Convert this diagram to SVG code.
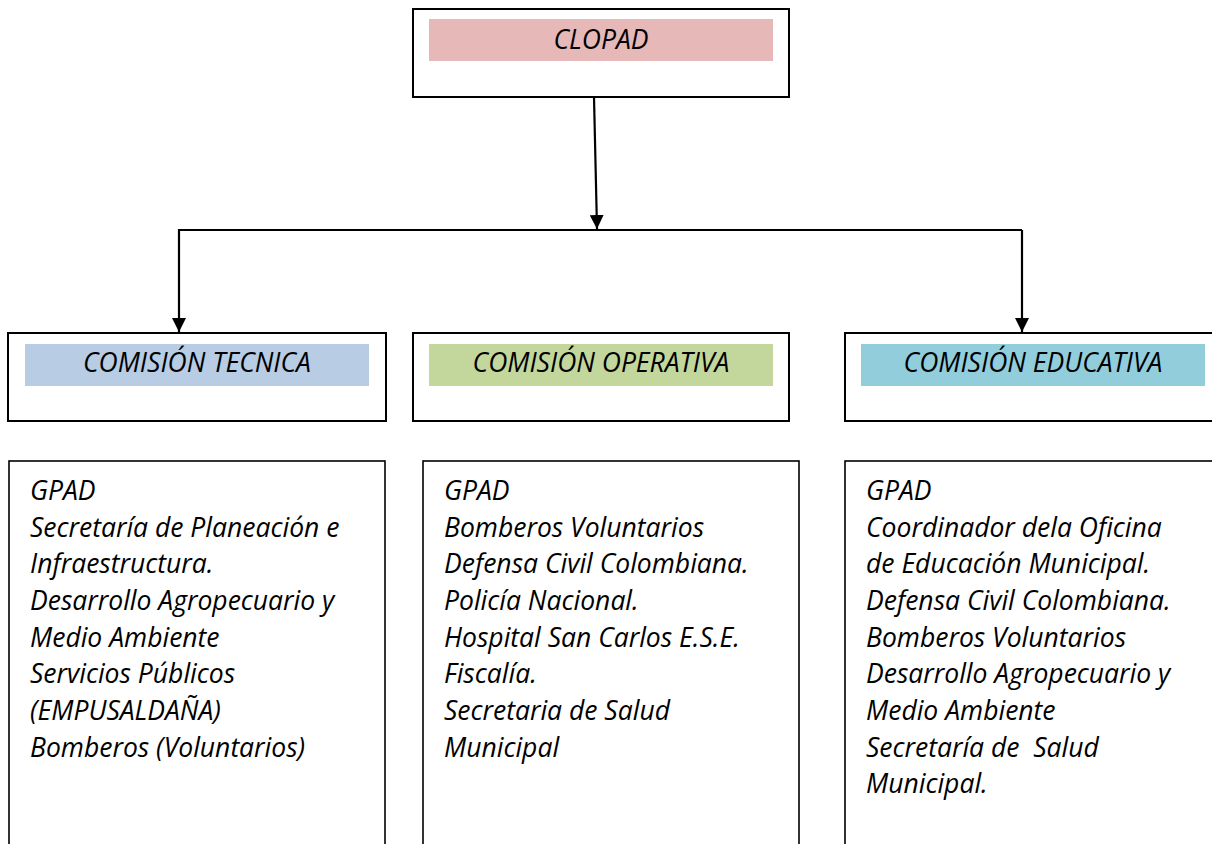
<svg xmlns="http://www.w3.org/2000/svg" width="1212" height="844" viewBox="0 0 1212 844">
<style>
.box{fill:#fff;stroke:#000;stroke-width:2}
.lbox{fill:#fff;stroke:#000;stroke-width:1.6}
.t{font-family:"Open Sans",Lato,"Liberation Sans",sans-serif;font-style:italic;font-size:26.5px;fill:#000;white-space:pre}
.c{text-anchor:middle}
.ln{fill:none;stroke:#000;stroke-width:2.2}
</style>
<defs>
<marker id="ah" viewBox="0 0 10 10" refX="10" refY="5" markerWidth="14" markerHeight="14" markerUnits="userSpaceOnUse" orient="auto">
<path d="M0,0 L10,5 L0,10 Z" fill="#000"/>
</marker>
</defs>
<rect width="1212" height="844" fill="#fff"/>
<g id="clopad">
<rect class="box" x="413" y="9" width="376" height="88"/>
<rect x="429" y="19" width="344" height="42" fill="#e6b8b7"/>
<text class="t c" x="601" y="49">CLOPAD</text>
</g>
<g id="connectors">
<path class="ln" d="M594,97 L597,229" marker-end="url(#ah)"/>
<path class="ln" d="M1022,230 L179,230 L179,332" marker-end="url(#ah)"/>
<path class="ln" d="M1022,230 L1022,332" marker-end="url(#ah)"/>
</g>
<g id="tecnica">
<rect class="box" x="8" y="333" width="378" height="88"/>
<rect x="25" y="344" width="344" height="42" fill="#b8cce4"/>
<text class="t c" x="197" y="372">COMISIÓN TECNICA</text>
</g>
<g id="operativa">
<rect class="box" x="413" y="333" width="376" height="88"/>
<rect x="429" y="344" width="344" height="42" fill="#c3d69b"/>
<text class="t c" x="601" y="372">COMISIÓN OPERATIVA</text>
</g>
<g id="educativa">
<rect class="box" x="845" y="333" width="380" height="88"/>
<rect x="861" y="344" width="344" height="42" fill="#92cddc"/>
<text class="t c" x="1033" y="372">COMISIÓN EDUCATIVA</text>
</g>
<g id="tecnica-list">
<rect class="lbox" x="9" y="461" width="376" height="400"/>
<text class="t" x="30" y="500">GPAD</text>
<text class="t" x="30" y="536.7">Secretaría de Planeación e</text>
<text class="t" x="30" y="573.3">Infraestructura.</text>
<text class="t" x="30" y="610">Desarrollo Agropecuario y</text>
<text class="t" x="30" y="646.7">Medio Ambiente</text>
<text class="t" x="30" y="683.3">Servicios Públicos</text>
<text class="t" x="30" y="720">(EMPUSALDAÑA)</text>
<text class="t" x="30" y="756.7">Bomberos (Voluntarios)</text>
</g>
<g id="operativa-list">
<rect class="lbox" x="423" y="461" width="376" height="400"/>
<text class="t" x="444" y="500">GPAD</text>
<text class="t" x="444" y="536.7">Bomberos Voluntarios</text>
<text class="t" x="444" y="573.3">Defensa Civil Colombiana.</text>
<text class="t" x="444" y="610">Policía Nacional.</text>
<text class="t" x="444" y="646.7">Hospital San Carlos E.S.E.</text>
<text class="t" x="444" y="683.3">Fiscalía.</text>
<text class="t" x="444" y="720">Secretaria de Salud</text>
<text class="t" x="444" y="756.7">Municipal</text>
</g>
<g id="educativa-list">
<rect class="lbox" x="845" y="461" width="380" height="400"/>
<text class="t" x="866" y="500">GPAD</text>
<text class="t" x="866" y="536.7">Coordinador dela Oficina</text>
<text class="t" x="866" y="573.3">de Educación Municipal.</text>
<text class="t" x="866" y="610">Defensa Civil Colombiana.</text>
<text class="t" x="866" y="646.7">Bomberos Voluntarios</text>
<text class="t" x="866" y="683.3">Desarrollo Agropecuario y</text>
<text class="t" x="866" y="720">Medio Ambiente</text>
<text class="t" x="866" y="756.7">Secretaría de  Salud</text>
<text class="t" x="866" y="793.3">Municipal.</text>
</g>
</svg>
